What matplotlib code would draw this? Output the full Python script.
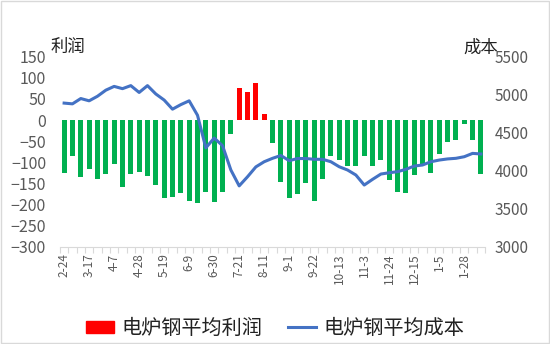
import matplotlib
matplotlib.use('Agg')
import matplotlib.pyplot as plt
import numpy as np
from matplotlib.patches import Rectangle

plt.rcParams['font.family'] = ['Noto Sans CJK SC', 'DejaVu Sans']

# weekly dates
dates = ['2-24', '3-3', '3-10', '3-17', '3-24', '3-31', '4-7', '4-14', '4-21', '4-28',
         '5-5', '5-12', '5-19', '5-26', '6-2', '6-9', '6-16', '6-23', '6-30', '7-7',
         '7-14', '7-21', '7-28', '8-4', '8-11', '8-18', '8-25', '9-1', '9-8', '9-15',
         '9-22', '9-29', '10-6', '10-13', '10-20', '10-27', '11-3', '11-10', '11-17', '11-24',
         '12-1', '12-8', '12-15', '12-22', '12-29', '1-5', '1-12', '1-19', '1-28', '2-4',
         '2-11']

# 电炉钢平均利润 (left axis)
profit = [-125, -85, -135, -115, -139, -129, -103, -159, -127, -122,
          -132, -154, -185, -182, -174, -192, -197, -171, -195, -170,
          -32, 77, 66, 89, 14, -55, -146, -185, -175, -150,
          -192, -140, -85, -95, -110, -108, -85, -108, -95, -142,
          -170, -174, -130, -103, -125, -80, -51, -48, -10, -47,
          -127]

# 电炉钢平均成本 (right axis)
cost = [4890, 4880, 4950, 4920, 4980, 5060, 5110, 5080, 5120, 5030,
        5120, 5010, 4930, 4810, 4870, 4920, 4730, 4300, 4430, 4330,
        4010, 3800, 3920, 4050, 4118, 4163, 4200, 4132, 4160, 4160,
        4150, 4150, 4118, 4052, 4009, 3943, 3811, 3886, 3956, 3973,
        3987, 4018, 4061, 4075, 4118, 4140, 4155, 4163, 4184, 4228,
        4220]

grey = '#595959'
x = np.arange(len(dates))
colors = ['#FF0000' if v > 0 else '#00B050' for v in profit]

fig = plt.figure(figsize=(5.5, 3.44), dpi=100)
ax = fig.add_axes([0.109, 0.283, 0.773, 0.552])
ax2 = ax.twinx()

ax.bar(x, profit, width=0.6, color=colors, zorder=2)
ax2.plot(x, cost, color='#4472C4', lw=2.2, zorder=3)

ax.set_xlim(-0.5, len(dates) - 0.5)
ax.set_ylim(-300, 150)
ax.set_yticks(range(-300, 151, 50))
ax2.set_ylim(3000, 5500)
ax2.set_yticks(range(3000, 5501, 500))

ax.set_xticks(x[::3])
ax.set_xticklabels(dates[::3], rotation=90, fontsize=8.5, color=grey)
ax.set_xticks(np.arange(-0.5, len(dates), 1), minor=True)
ax.tick_params(axis='x', which='major', length=0, pad=5)
ax.tick_params(axis='x', which='minor', length=4, color='#D9D9D9', width=0.8)
ax.tick_params(axis='y', length=0, labelsize=11.5, labelcolor=grey, pad=10)
ax2.tick_params(axis='y', length=0, labelsize=11, labelcolor=grey, pad=7)

for a in (ax, ax2):
    for s in ['top', 'left', 'right']:
        a.spines[s].set_visible(False)
    a.spines['bottom'].set_color('#D9D9D9')
ax2.spines['bottom'].set_visible(False)

fig.text(0.092, 0.862, '利润', fontsize=12.5, color='#222222', va='center')
fig.text(0.843, 0.862, '成本', fontsize=12.5, color='#222222', va='center')

# legend
red_patch = Rectangle((0, 0), 1, 1, color='#FF0000')
blue_line, = ax.plot([], [], color='#4472C4', lw=2.2)
fig.legend([red_patch, blue_line], ['电炉钢平均利润', '电炉钢平均成本'],
           loc='center', bbox_to_anchor=(0.5, 0.045), ncol=2, frameon=False,
           fontsize=14.5, handlelength=1.4, handleheight=0.55, columnspacing=1.3,
           handletextpad=0.35, labelcolor='#222222')

fig.patches.append(Rectangle((0.001, 0.002), 0.997, 0.995, transform=fig.transFigure,
                             fill=False, edgecolor='#D9D9D9', lw=1))

fig.savefig('out.png', dpi=100)
